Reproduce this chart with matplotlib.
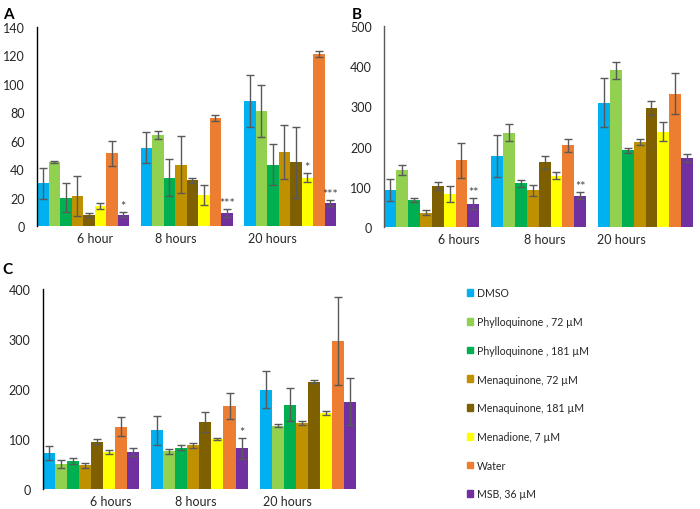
import numpy as np
import matplotlib.pyplot as plt

plt.rcParams['font.family'] = ['Lato', 'DejaVu Sans']

treatments = ['DMSO', 'Phylloquinone , 72 \u00b5M', 'Phylloquinone , 181 \u00b5M',
              'Menaquinone, 72 \u00b5M', 'Menaquinone, 181 \u00b5M', 'Menadione, 7 \u00b5M',
              'Water', 'MSB, 36 \u00b5M']
colors = ['#00B0F0', '#92D050', '#00B050', '#BF9000', '#7F6000', '#FFFF00', '#ED7D31', '#7030A0']

# rows = time points, cols = treatments
a_times = ['6 hour', '8 hours', '20 hours']
a_vals = [[30, 45, 20, 21, 7.5, 14, 51, 8],
          [55, 64, 34, 43, 32, 22, 76, 9],
          [88, 81, 43, 52, 45, 34, 121, 16]]
a_err = [[11, 0.7, 10.5, 14, 1.5, 2, 9, 2],
         [11, 2.5, 13, 20, 2, 7, 2, 3],
         [18, 18.5, 14.5, 19, 25, 3, 2, 2]]
a_stars = {(0, 7): '*', (1, 7): '***', (2, 5): '*', (2, 7): '***'}

b_times = ['6 hours', '8 hours', '20 hours']
b_vals = [[92, 143, 68, 37, 103, 82, 166, 59],
          [176, 235, 109, 92, 161, 128, 203, 79],
          [309, 389, 191, 212, 296, 237, 331, 172]]
b_err = [[27, 12, 4, 7, 10, 20, 43, 13],
         [52, 22, 9, 14, 15, 9, 15, 8],
         [60, 21, 6, 7, 18, 23.5, 51, 11]]
b_stars = {(0, 7): '**', (1, 7): '**'}

c_times = ['6 hours', '8 hours', '20 hours']
c_vals = [[72, 50, 56, 48, 95, 74, 125, 74],
          [118, 76, 83, 88, 135, 100, 167, 82],
          [199, 127, 169, 132, 215, 153, 297, 175]]
c_err = [[14, 8, 6, 5, 5, 4, 19, 8],
         [29, 5, 5, 5, 20, 2.5, 26, 21],
         [37, 3, 33, 4, 3, 4, 88, 47]]
c_stars = {(1, 7): '*'}


def panel(ax, times, vals, err, stars, ymax, ystep, label_pos, spine_col):
    n = len(vals[0])
    for g in range(len(times)):
        x = g * (n + 1) + np.arange(n) + 0.5
        ax.bar(x, vals[g], width=1.0, color=colors, yerr=err[g], capsize=3,
               error_kw=dict(ecolor='#595959', elinewidth=1, capthick=1))
        for (gg, i), s in stars.items():
            if gg == g:
                ax.text(x[i], vals[g][i] + err[g][i], s, ha='center', va='bottom',
                        fontsize=9, color='#404040', linespacing=0.5)
    ax.set_xlim(0, len(times) * (n + 1) - 1)
    ax.set_ylim(0, ymax)
    ax.set_yticks(np.arange(0, ymax + 1, ystep))
    ax.set_xticks(label_pos)
    ax.set_xticklabels(times)
    ax.tick_params(axis='both', length=0, labelsize=9, colors='#262626')
    ax.tick_params(axis='y', pad=9)
    ax.tick_params(axis='x', pad=4)
    for s in ['top', 'right', 'bottom']:
        ax.spines[s].set_visible(False)
    ax.spines['left'].set_color(spine_col)
    ax.spines['left'].set_linewidth(1)


fig = plt.figure(figsize=(7, 5.1), dpi=100)
ax_a = fig.add_axes([0.053, 0.555, 0.427, 0.390])
ax_b = fig.add_axes([0.549, 0.552, 0.441, 0.396])
ax_c = fig.add_axes([0.0614, 0.039, 0.447, 0.392])

panel(ax_a, a_times, a_vals, a_err, a_stars, 140, 20, [5.0, 12.1, 20.5], 'black')
panel(ax_b, b_times, b_vals, b_err, b_stars, 500, 100, [6.3, 13.5, 20.0], '#595959')
panel(ax_c, c_times, c_vals, c_err, c_stars, 400, 100, [5.6, 12.7, 20.3], 'black')

fig.text(0.004, 0.985, 'A', fontsize=11, fontweight='bold', va='top')
fig.text(0.503, 0.985, 'B', fontsize=11, fontweight='bold', va='top')
fig.text(0.004, 0.485, 'C', fontsize=11, fontweight='bold', va='top')

handles = [plt.Rectangle((0, 0), 1, 1, color=c) for c in colors]
fig.legend(handles, treatments, loc='upper left', bbox_to_anchor=(0.659, 0.445),
           frameon=False, fontsize=7.6, labelspacing=1.68, handlelength=0.6,
           handleheight=0.6, handletextpad=0.4, borderpad=0, labelcolor='#262626')

fig.savefig('out.png', dpi=100)
